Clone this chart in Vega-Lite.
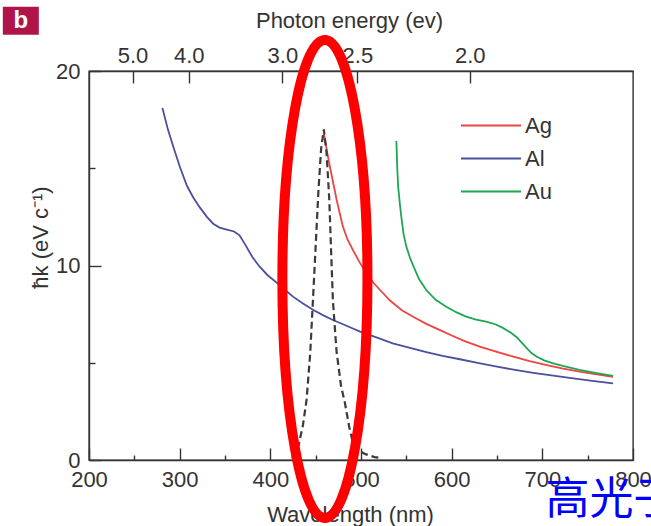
{
  "$schema": "https://vega.github.io/schema/vega-lite/v6.json",
  "width": 544,
  "height": 389,
  "autosize": {"type": "none"},
  "padding": {"left": 89, "top": 71, "right": 18, "bottom": 66},
  "background": "white",
  "config": {
    "view": {"stroke": "#333333", "strokeWidth": 1.4},
    "font": "Liberation Sans",
    "axis": {
      "labelFont": "Liberation Sans",
      "titleFont": "Liberation Sans",
      "labelFontSize": 22,
      "titleFontSize": 22,
      "labelColor": "#333333",
      "titleColor": "#333333",
      "titleFontWeight": "normal",
      "labelFlush": false,
      "labelOverlap": false,
      "domainColor": "#333333",
      "domainWidth": 1.4,
      "tickColor": "#333333",
      "tickWidth": 1.4,
      "grid": false
    },
    "legend": {"labelFont": "Liberation Sans", "labelFontSize": 22, "labelColor": "#333333"}
  },
  "datasets": {
    "curves": [
      {"metal": "Al", "lam": 281, "k": 18.1}, {"metal": "Al", "lam": 287, "k": 17.0}, {"metal": "Al", "lam": 293, "k": 16.1},
      {"metal": "Al", "lam": 300, "k": 15.1}, {"metal": "Al", "lam": 308, "k": 14.1}, {"metal": "Al", "lam": 315, "k": 13.5},
      {"metal": "Al", "lam": 322, "k": 13.0}, {"metal": "Al", "lam": 330, "k": 12.5}, {"metal": "Al", "lam": 337, "k": 12.15},
      {"metal": "Al", "lam": 344, "k": 11.95}, {"metal": "Al", "lam": 352, "k": 11.85}, {"metal": "Al", "lam": 360, "k": 11.75},
      {"metal": "Al", "lam": 366, "k": 11.55}, {"metal": "Al", "lam": 372, "k": 11.1}, {"metal": "Al", "lam": 380, "k": 10.45},
      {"metal": "Al", "lam": 388, "k": 9.95}, {"metal": "Al", "lam": 397, "k": 9.5}, {"metal": "Al", "lam": 407, "k": 9.12},
      {"metal": "Al", "lam": 416, "k": 8.75}, {"metal": "Al", "lam": 425, "k": 8.4}, {"metal": "Al", "lam": 436, "k": 8.05},
      {"metal": "Al", "lam": 447, "k": 7.72}, {"metal": "Al", "lam": 458, "k": 7.45}, {"metal": "Al", "lam": 469, "k": 7.2},
      {"metal": "Al", "lam": 484, "k": 6.9}, {"metal": "Al", "lam": 499, "k": 6.6}, {"metal": "Al", "lam": 517, "k": 6.3},
      {"metal": "Al", "lam": 535, "k": 6.0}, {"metal": "Al", "lam": 553, "k": 5.78}, {"metal": "Al", "lam": 572, "k": 5.55},
      {"metal": "Al", "lam": 590, "k": 5.35}, {"metal": "Al", "lam": 609, "k": 5.18}, {"metal": "Al", "lam": 630, "k": 4.98},
      {"metal": "Al", "lam": 650, "k": 4.8}, {"metal": "Al", "lam": 670, "k": 4.63}, {"metal": "Al", "lam": 690, "k": 4.48},
      {"metal": "Al", "lam": 710, "k": 4.35}, {"metal": "Al", "lam": 730, "k": 4.22}, {"metal": "Al", "lam": 755, "k": 4.07},
      {"metal": "Al", "lam": 778, "k": 3.94},
      {"metal": "Ag", "lam": 459, "k": 16.8}, {"metal": "Ag", "lam": 462, "k": 16.0}, {"metal": "Ag", "lam": 466, "k": 15.0},
      {"metal": "Ag", "lam": 470, "k": 14.1}, {"metal": "Ag", "lam": 473, "k": 13.4}, {"metal": "Ag", "lam": 477, "k": 12.6},
      {"metal": "Ag", "lam": 480, "k": 12.0}, {"metal": "Ag", "lam": 485, "k": 11.35}, {"metal": "Ag", "lam": 491, "k": 10.8},
      {"metal": "Ag", "lam": 498, "k": 10.2}, {"metal": "Ag", "lam": 506, "k": 9.6}, {"metal": "Ag", "lam": 514, "k": 9.1},
      {"metal": "Ag", "lam": 521, "k": 8.74}, {"metal": "Ag", "lam": 532, "k": 8.2}, {"metal": "Ag", "lam": 545, "k": 7.7},
      {"metal": "Ag", "lam": 558, "k": 7.35}, {"metal": "Ag", "lam": 572, "k": 7.0}, {"metal": "Ag", "lam": 586, "k": 6.7},
      {"metal": "Ag", "lam": 600, "k": 6.4}, {"metal": "Ag", "lam": 615, "k": 6.1}, {"metal": "Ag", "lam": 631, "k": 5.83},
      {"metal": "Ag", "lam": 650, "k": 5.56}, {"metal": "Ag", "lam": 668, "k": 5.31}, {"metal": "Ag", "lam": 686, "k": 5.08},
      {"metal": "Ag", "lam": 705, "k": 4.88}, {"metal": "Ag", "lam": 723, "k": 4.7}, {"metal": "Ag", "lam": 741, "k": 4.54},
      {"metal": "Ag", "lam": 760, "k": 4.4}, {"metal": "Ag", "lam": 778, "k": 4.28},
      {"metal": "Au", "lam": 539, "k": 16.4}, {"metal": "Au", "lam": 540, "k": 15.0}, {"metal": "Au", "lam": 541, "k": 14.05},
      {"metal": "Au", "lam": 543, "k": 13.1}, {"metal": "Au", "lam": 545, "k": 12.3}, {"metal": "Au", "lam": 547, "k": 11.6},
      {"metal": "Au", "lam": 550, "k": 10.97}, {"metal": "Au", "lam": 554, "k": 10.4}, {"metal": "Au", "lam": 558, "k": 9.94},
      {"metal": "Au", "lam": 564, "k": 9.3}, {"metal": "Au", "lam": 572, "k": 8.74}, {"metal": "Au", "lam": 582, "k": 8.25},
      {"metal": "Au", "lam": 594, "k": 7.88}, {"metal": "Au", "lam": 605, "k": 7.6}, {"metal": "Au", "lam": 616, "k": 7.37},
      {"metal": "Au", "lam": 627, "k": 7.22}, {"metal": "Au", "lam": 638, "k": 7.11}, {"metal": "Au", "lam": 648, "k": 6.98},
      {"metal": "Au", "lam": 657, "k": 6.78}, {"metal": "Au", "lam": 665, "k": 6.55}, {"metal": "Au", "lam": 672, "k": 6.3},
      {"metal": "Au", "lam": 677, "k": 6.05}, {"metal": "Au", "lam": 683, "k": 5.74}, {"metal": "Au", "lam": 688, "k": 5.5},
      {"metal": "Au", "lam": 694, "k": 5.31}, {"metal": "Au", "lam": 702, "k": 5.12}, {"metal": "Au", "lam": 712, "k": 4.97},
      {"metal": "Au", "lam": 726, "k": 4.8}, {"metal": "Au", "lam": 741, "k": 4.63}, {"metal": "Au", "lam": 760, "k": 4.47},
      {"metal": "Au", "lam": 778, "k": 4.32}
    ],
    "source": [
      {"lam": 424, "k": 0.1}, {"lam": 430, "k": 0.5}, {"lam": 436, "k": 1.8}, {"lam": 440, "k": 3.1},
      {"lam": 444, "k": 5.5}, {"lam": 447, "k": 8.2}, {"lam": 450, "k": 11.0}, {"lam": 453, "k": 13.8},
      {"lam": 456, "k": 16.0}, {"lam": 459, "k": 17.0}, {"lam": 462, "k": 15.8}, {"lam": 465, "k": 13.4},
      {"lam": 469, "k": 8.2}, {"lam": 473, "k": 5.6}, {"lam": 478, "k": 3.8}, {"lam": 482, "k": 3.0},
      {"lam": 487, "k": 1.7}, {"lam": 491, "k": 0.9}, {"lam": 497, "k": 0.5}, {"lam": 505, "k": 0.3},
      {"lam": 515, "k": 0.15}, {"lam": 522, "k": 0.1}
    ],
    "highlight": [{"lam": 460.2, "k": 9.31}],
    "badge": [{"lam": 124.8, "k": 22.58, "label": "b"}],
    "note": [{"lam": 703.5, "k": -2.1, "label": "高光子"}]
  },
  "resolve": {"scale": {"x": "shared", "y": "shared"}, "axis": {"x": "independent", "y": "independent"}},
  "layer": [
    {
      "data": {"name": "curves"},
      "mark": {"type": "line", "strokeWidth": 1.8, "clip": true},
      "encoding": {
        "x": {"field": "lam", "type": "quantitative",
          "scale": {"domain": [200, 800], "nice": false, "zero": false},
          "axis": {"orient": "bottom", "values": [200, 300, 400, 500, 600, 700, 800], "tickSize": -12,
                   "labelPadding": 21, "title": "Wavelength (nm)", "titleX": 261, "titleY": 54, "titleBaseline": "middle"}},
        "y": {"field": "k", "type": "quantitative",
          "scale": {"domain": [0, 20], "nice": false, "zero": false},
          "axis": {"orient": "left", "values": [0, 10, 20], "tickSize": -12, "labelPadding": 21,
                   "title": "ħk (eV c⁻¹)", "titleX": -49, "titleY": 166, "titleBaseline": "middle"}},
        "color": {"field": "metal", "type": "nominal",
          "scale": {"domain": ["Ag", "Al", "Au"], "range": ["#ee4444", "#4a4f9e", "#1fa653"]},
          "legend": {"orient": "none", "legendX": 371, "legendY": 42, "title": null,
                     "symbolType": "stroke", "symbolSize": 3600, "symbolStrokeWidth": 1.8,
                     "clipHeight": 25, "labelOffset": 3, "rowPadding": 8}}
      }
    },
    {
      "data": {"name": "source"},
      "mark": {"type": "line", "strokeWidth": 2.2, "strokeDash": [7, 4], "color": "#3a3a3a"},
      "encoding": {
        "x": {"field": "lam", "type": "quantitative",
          "axis": {"orient": "bottom", "values": [250, 350, 450, 550, 650, 750], "labels": false, "domain": false,
                   "tickSize": -5, "title": null}},
        "y": {"field": "k", "type": "quantitative",
          "axis": {"orient": "left", "values": [5, 15], "labels": false, "domain": false,
                   "tickSize": -6, "title": null}}
      }
    },
    {
      "data": {"name": "highlight"},
      "mark": {"type": "point", "filled": false, "stroke": "#ff0000", "strokeWidth": 10, "opacity": 1,
               "shape": "M0,-1A0.178,1,0,1,1,0,1A0.178,1,0,1,1,0,-1Z", "size": 228484},
      "encoding": {
        "x": {"field": "lam", "type": "quantitative",
          "axis": {"orient": "top", "values": [248, 310, 413.3, 496, 620], "tickSize": -12, "labelPadding": 16,
                   "labelExpr": "format(1240 / datum.value, '.1f')",
                   "title": "Photon energy (ev)", "titleX": 260, "titleY": -51, "titleBaseline": "middle"}},
        "y": {"field": "k", "type": "quantitative", "axis": null}
      }
    },
    {
      "data": {"name": "badge"},
      "mark": {"type": "point", "filled": true, "color": "#b0154a", "opacity": 1,
               "shape": "M-1,-0.78H1V0.78H-1Z", "size": 1296},
      "encoding": {
        "x": {"field": "lam", "type": "quantitative", "axis": null},
        "y": {"field": "k", "type": "quantitative", "axis": null}
      }
    },
    {
      "data": {"name": "badge"},
      "mark": {"type": "text", "color": "white", "fontWeight": "bold", "fontSize": 24, "font": "Liberation Sans",
               "align": "center", "baseline": "middle"},
      "encoding": {
        "x": {"field": "lam", "type": "quantitative", "axis": null},
        "y": {"field": "k", "type": "quantitative", "axis": null},
        "text": {"field": "label"}
      }
    },
    {
      "data": {"name": "note"},
      "mark": {"type": "text", "color": "#0000ff", "fontSize": 44, "font": "Noto Sans CJK SC",
               "align": "left", "baseline": "middle"},
      "encoding": {
        "x": {"field": "lam", "type": "quantitative", "axis": null},
        "y": {"field": "k", "type": "quantitative", "axis": null},
        "text": {"field": "label"}
      }
    }
  ]
}
